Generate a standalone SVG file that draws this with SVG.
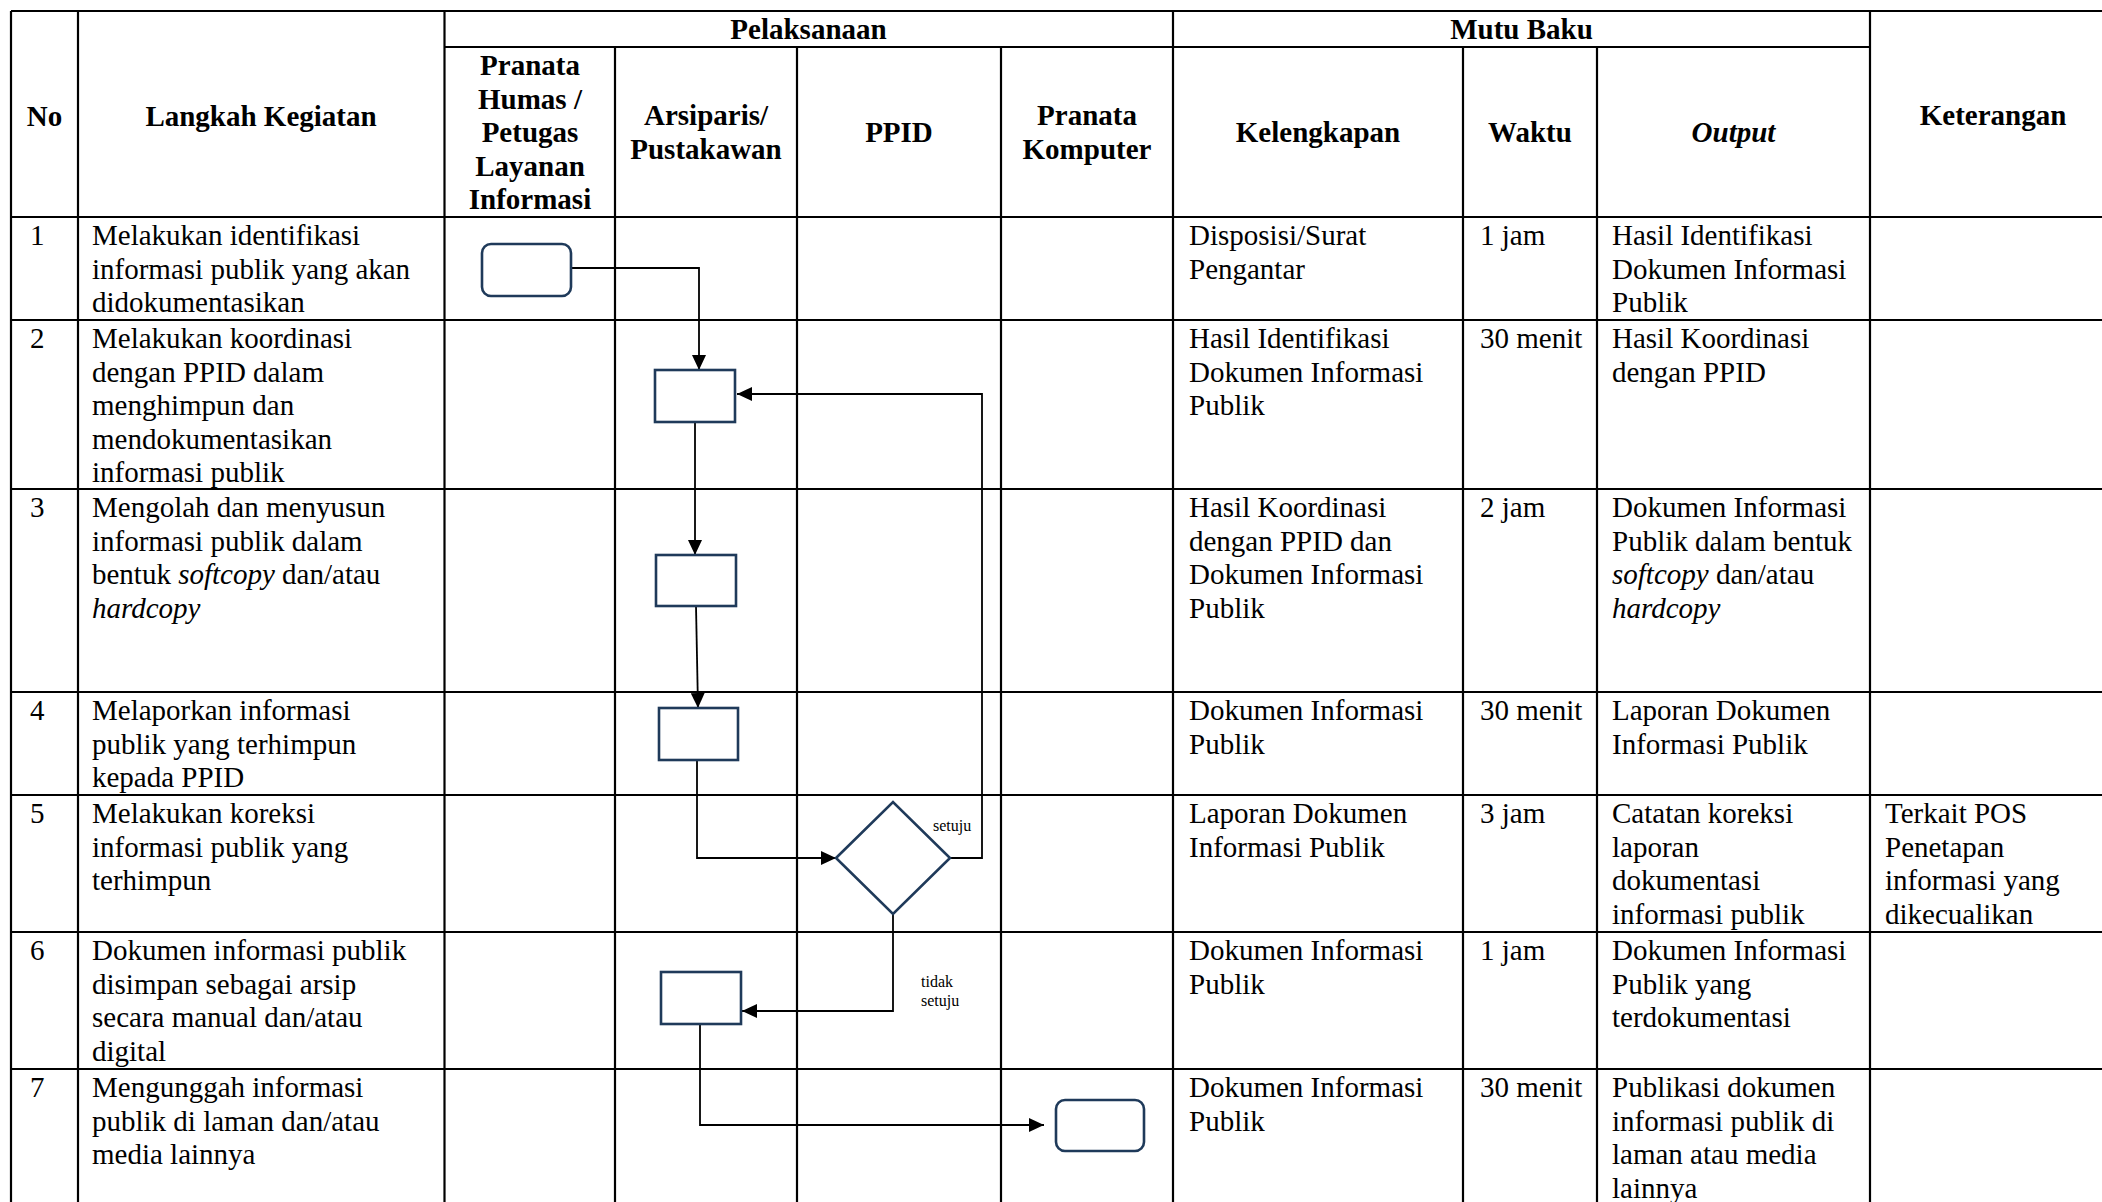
<svg xmlns="http://www.w3.org/2000/svg" width="2102" height="1202" viewBox="0 0 2102 1202">
<style>
.grid line{stroke:#000;stroke-width:2.2}
.t{font-family:"Liberation Serif","Times New Roman",serif;font-size:29px;fill:#000}
.h{font-family:"Liberation Serif","Times New Roman",serif;font-size:29px;font-weight:bold;fill:#000;text-anchor:middle}
.i{font-style:italic}
.lbl{font-family:"Liberation Serif","Times New Roman",serif;font-size:16px;fill:#000}
.shape{fill:#fff;stroke:#1f3a5a;stroke-width:2.6}
.conn path{fill:none;stroke:#000;stroke-width:1.8}
</style>
<defs>
<marker id="arr" markerUnits="userSpaceOnUse" markerWidth="16" markerHeight="14" refX="15" refY="7" orient="auto">
<path d="M0,0 L15,7 L0,14 z" fill="#000"/>
</marker>
</defs>
<rect width="2102" height="1202" fill="#fff"/>
<g class="grid">
<line x1="11" y1="11" x2="2102" y2="11"/>
<line x1="444.5" y1="47" x2="1870" y2="47"/>
<line x1="11" y1="217" x2="2102" y2="217"/>
<line x1="11" y1="320" x2="2102" y2="320"/>
<line x1="11" y1="489" x2="2102" y2="489"/>
<line x1="11" y1="692" x2="2102" y2="692"/>
<line x1="11" y1="795" x2="2102" y2="795"/>
<line x1="11" y1="932" x2="2102" y2="932"/>
<line x1="11" y1="1069" x2="2102" y2="1069"/>
<line x1="11" y1="11" x2="11" y2="1202"/>
<line x1="78" y1="11" x2="78" y2="1202"/>
<line x1="444.5" y1="11" x2="444.5" y2="1202"/>
<line x1="615" y1="47" x2="615" y2="1202"/>
<line x1="797" y1="47" x2="797" y2="1202"/>
<line x1="1001" y1="47" x2="1001" y2="1202"/>
<line x1="1173" y1="11" x2="1173" y2="1202"/>
<line x1="1463" y1="47" x2="1463" y2="1202"/>
<line x1="1597" y1="47" x2="1597" y2="1202"/>
<line x1="1870" y1="11" x2="1870" y2="1202"/>
</g>
<g id="header">
<text class="h" x="808.5" y="39">Pelaksanaan</text>
<text class="h" x="1521.5" y="39">Mutu Baku</text>
<text class="h" x="44.5" y="126">No</text>
<text class="h" x="261" y="126">Langkah Kegiatan</text>
<text class="h" x="1993" y="125">Keterangan</text>
<text class="h" x="530"><tspan x="530" y="75">Pranata</tspan><tspan x="530" y="108.5">Humas /</tspan><tspan x="530" y="142">Petugas</tspan><tspan x="530" y="175.5">Layanan</tspan><tspan x="530" y="209">Informasi</tspan></text>
<text class="h"><tspan x="706" y="125">Arsiparis/</tspan><tspan x="706" y="158.5">Pustakawan</tspan></text>
<text class="h" x="899" y="142">PPID</text>
<text class="h"><tspan x="1087" y="125">Pranata</tspan><tspan x="1087" y="158.5">Komputer</tspan></text>
<text class="h" x="1318" y="142">Kelengkapan</text>
<text class="h" x="1530" y="142">Waktu</text>
<text class="h i" x="1733.5" y="142">Output</text>
</g>
<g id="row1">
<text class="t" x="30" y="245">1</text>
<text class="t"><tspan x="92" y="245">Melakukan identifikasi</tspan><tspan x="92" y="278.5">informasi publik yang akan</tspan><tspan x="92" y="312">didokumentasikan</tspan></text>
<text class="t"><tspan x="1189" y="245">Disposisi/Surat</tspan><tspan x="1189" y="278.5">Pengantar</tspan></text>
<text class="t" x="1480" y="245">1 jam</text>
<text class="t"><tspan x="1612" y="245">Hasil Identifikasi</tspan><tspan x="1612" y="278.5">Dokumen Informasi</tspan><tspan x="1612" y="312">Publik</tspan></text>
</g>
<g id="row2">
<text class="t" x="30" y="348">2</text>
<text class="t"><tspan x="92" y="348">Melakukan koordinasi</tspan><tspan x="92" y="381.5">dengan PPID dalam</tspan><tspan x="92" y="415">menghimpun dan</tspan><tspan x="92" y="448.5">mendokumentasikan</tspan><tspan x="92" y="482">informasi publik</tspan></text>
<text class="t"><tspan x="1189" y="348">Hasil Identifikasi</tspan><tspan x="1189" y="381.5">Dokumen Informasi</tspan><tspan x="1189" y="415">Publik</tspan></text>
<text class="t" x="1480" y="348">30 menit</text>
<text class="t"><tspan x="1612" y="348">Hasil Koordinasi</tspan><tspan x="1612" y="381.5">dengan PPID</tspan></text>
</g>
<g id="row3">
<text class="t" x="30" y="517">3</text>
<text class="t"><tspan x="92" y="517">Mengolah dan menyusun</tspan><tspan x="92" y="550.5">informasi publik dalam</tspan><tspan x="92" y="584">bentuk <tspan class="i">softcopy</tspan> dan/atau</tspan><tspan x="92" y="617.5" class="i">hardcopy</tspan></text>
<text class="t"><tspan x="1189" y="517">Hasil Koordinasi</tspan><tspan x="1189" y="550.5">dengan PPID dan</tspan><tspan x="1189" y="584">Dokumen Informasi</tspan><tspan x="1189" y="617.5">Publik</tspan></text>
<text class="t" x="1480" y="517">2 jam</text>
<text class="t"><tspan x="1612" y="517">Dokumen Informasi</tspan><tspan x="1612" y="550.5">Publik dalam bentuk</tspan><tspan x="1612" y="584"><tspan class="i">softcopy</tspan> dan/atau</tspan><tspan x="1612" y="617.5" class="i">hardcopy</tspan></text>
</g>
<g id="row4">
<text class="t" x="30" y="720">4</text>
<text class="t"><tspan x="92" y="720">Melaporkan informasi</tspan><tspan x="92" y="753.5">publik yang terhimpun</tspan><tspan x="92" y="787">kepada PPID</tspan></text>
<text class="t"><tspan x="1189" y="720">Dokumen Informasi</tspan><tspan x="1189" y="753.5">Publik</tspan></text>
<text class="t" x="1480" y="720">30 menit</text>
<text class="t"><tspan x="1612" y="720">Laporan Dokumen</tspan><tspan x="1612" y="753.5">Informasi Publik</tspan></text>
</g>
<g id="row5">
<text class="t" x="30" y="823">5</text>
<text class="t"><tspan x="92" y="823">Melakukan koreksi</tspan><tspan x="92" y="856.5">informasi publik yang</tspan><tspan x="92" y="890">terhimpun</tspan></text>
<text class="t"><tspan x="1189" y="823">Laporan Dokumen</tspan><tspan x="1189" y="856.5">Informasi Publik</tspan></text>
<text class="t" x="1480" y="823">3 jam</text>
<text class="t"><tspan x="1612" y="823">Catatan koreksi</tspan><tspan x="1612" y="856.5">laporan</tspan><tspan x="1612" y="890">dokumentasi</tspan><tspan x="1612" y="923.5">informasi publik</tspan></text>
<text class="t"><tspan x="1885" y="823">Terkait POS</tspan><tspan x="1885" y="856.5">Penetapan</tspan><tspan x="1885" y="890">informasi yang</tspan><tspan x="1885" y="923.5">dikecualikan</tspan></text>
</g>
<g id="row6">
<text class="t" x="30" y="960">6</text>
<text class="t"><tspan x="92" y="960">Dokumen informasi publik</tspan><tspan x="92" y="993.5">disimpan sebagai arsip</tspan><tspan x="92" y="1027">secara manual dan/atau</tspan><tspan x="92" y="1060.5">digital</tspan></text>
<text class="t"><tspan x="1189" y="960">Dokumen Informasi</tspan><tspan x="1189" y="993.5">Publik</tspan></text>
<text class="t" x="1480" y="960">1 jam</text>
<text class="t"><tspan x="1612" y="960">Dokumen Informasi</tspan><tspan x="1612" y="993.5">Publik yang</tspan><tspan x="1612" y="1027">terdokumentasi</tspan></text>
</g>
<g id="row7">
<text class="t" x="30" y="1097">7</text>
<text class="t"><tspan x="92" y="1097">Mengunggah informasi</tspan><tspan x="92" y="1130.5">publik di laman dan/atau</tspan><tspan x="92" y="1164">media lainnya</tspan></text>
<text class="t"><tspan x="1189" y="1097">Dokumen Informasi</tspan><tspan x="1189" y="1130.5">Publik</tspan></text>
<text class="t" x="1480" y="1097">30 menit</text>
<text class="t"><tspan x="1612" y="1097">Publikasi dokumen</tspan><tspan x="1612" y="1130.5">informasi publik di</tspan><tspan x="1612" y="1164">laman atau media</tspan><tspan x="1612" y="1197.5">lainnya</tspan></text>
</g>
<g id="connectors" class="conn">
<path d="M571,268 H699 V370" marker-end="url(#arr)"/>
<path d="M695,422 V555" marker-end="url(#arr)"/>
<path d="M696,606 L698,708" marker-end="url(#arr)"/>
<path d="M697,760 V858 H836" marker-end="url(#arr)"/>
<path d="M950,858 H982 V394 H737" marker-end="url(#arr)"/>
<path d="M893,914 V1011 H742" marker-end="url(#arr)"/>
<path d="M700,1024 V1125 H1044" marker-end="url(#arr)"/>
</g>
<g id="start"><rect class="shape" x="482" y="244" width="89" height="52" rx="9"/></g>
<g id="box2"><rect class="shape" x="655" y="370" width="80" height="52"/></g>
<g id="box3"><rect class="shape" x="656" y="555" width="80" height="51"/></g>
<g id="box4"><rect class="shape" x="659" y="708" width="79" height="52"/></g>
<g id="decision"><polygon class="shape" points="836,858 893,802 950,858 893,914"/></g>
<g id="box6"><rect class="shape" x="661" y="972" width="80" height="52"/></g>
<g id="end"><rect class="shape" x="1056" y="1100" width="88" height="51" rx="9"/></g>
<g id="labels">
<text class="lbl" x="933" y="831">setuju</text>
<text class="lbl"><tspan x="921" y="987">tidak</tspan><tspan x="921" y="1006">setuju</tspan></text>
</g>
</svg>
